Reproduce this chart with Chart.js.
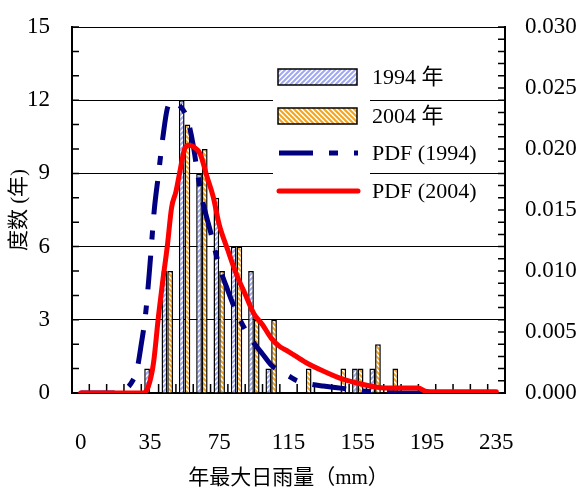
<!DOCTYPE html>
<html>
<head>
<meta charset="utf-8">
<script src="https://cdn.jsdelivr.net/npm/chart.js@4.4.0/dist/chart.umd.min.js"></script>
<style>
  html, body { margin: 0; padding: 0; background: #fff; }
  canvas { display: block; }
</style>
</head>
<body>
<canvas id="rainChart" width="583" height="498"></canvas>
<script>
// 区间标签 (mm) 以及在横轴上的位置 (第一个区间 "0" 放在 5 之前一格)
const binLabels = ['0','5','15','25','35','45','55','65','75','85','95','105','115','125','135','145','155','165','175','185','195','205','215','225','235'];
const binMid = [-5, 5, 15, 25, 35, 45, 55, 65, 75, 85, 95, 105, 115, 125, 135, 145, 155, 165, 175, 185, 195, 205, 215, 225, 235];
// 频数 (年)
const count1994 = [0,0,0,0,1,5,12,9,8,6,5,1,0,0,0,0,1,1,0,0,0,0,0,0,0];
const count2004 = [0,0,0,0,0,5,11,10,5,6,3,3,0,1,0,1,1,2,1,0,0,0,0,0,0];

// 概率密度 (mm, 密度)
const pdf1994X = [-5, 5, 15, 20, 25, 27.5, 30, 32.5, 35, 37.5, 40, 42.5, 45, 47.5, 50, 52.5, 55, 57.5, 60, 62.5, 65, 70, 75, 80, 85, 90, 95, 100, 105, 110, 115, 120, 125, 135, 145, 155, 165, 175, 185, 235];
const pdf1994Y = [0, 0, 0, 0.0002, 0.001, 0.0019, 0.004, 0.0065, 0.0105, 0.015, 0.018, 0.021, 0.0233, 0.0239, 0.0238, 0.0235, 0.023, 0.022, 0.0203, 0.018, 0.016, 0.0132, 0.0104, 0.0084, 0.0066, 0.0052, 0.0041, 0.0032, 0.0023, 0.0018, 0.0014, 0.001, 0.0008, 0.00057, 0.0004, 0.0002, 0.0001, 0.00003, 0, 0];
const pdf2004X = [-5, 25, 31, 34, 37, 40, 42.5, 45, 47.5, 50, 52.5, 55, 57.5, 60, 64, 68, 71.5, 75, 80, 85, 90, 95, 100, 105, 110, 115, 125, 135, 145, 155, 165, 175, 190, 194, 200, 235];
const pdf2004Y = [0, 0, 0, 0.0005, 0.0024, 0.0064, 0.0093, 0.012, 0.0152, 0.0165, 0.0183, 0.02, 0.0203, 0.0202, 0.0196, 0.0177, 0.0161, 0.0138, 0.0117, 0.0097, 0.0081, 0.0065, 0.0056, 0.0045, 0.0038, 0.0034, 0.0025, 0.0018, 0.0012, 0.0008, 0.0005, 0.0004, 0.0004, 0.00015, 0.0001, 0.0001];

const fontFamily = '"Liberation Serif", "Noto Sans CJK SC", serif';

function hatch(ctx, color, rising) {
    const s = 5;
    const c = document.createElement('canvas');
    c.width = s; c.height = s;
    const g = c.getContext('2d');
    g.fillStyle = '#fff';
    g.fillRect(0, 0, s, s);
    g.strokeStyle = color;
    g.lineWidth = 2;
    g.beginPath();
    for (let k = -1; k <= 1; k++) {
        if (rising) { g.moveTo(k*s - 1, s + 1); g.lineTo(k*s + s + 1, -1); }
        else { g.moveTo(k*s - 1, -1); g.lineTo(k*s + s + 1, s + 1); }
    }
    g.stroke();
    return ctx.createPattern(c, 'repeat');
}

// 内侧刻度
const innerTicks = {
    id: 'innerTicks',
    beforeDatasetsDraw(chart) {
        const {ctx, chartArea: a, scales} = chart;
        ctx.save();
        ctx.strokeStyle = '#000';
        ctx.lineWidth = 1.5;
        ctx.beginPath();
        for (let v = 0; v <= 15; v++) {
            const y = scales.y.getPixelForValue(v);
            ctx.moveTo(a.left, y); ctx.lineTo(a.left + 7, y);
        }
        for (let k = 0; k <= 30; k++) {
            const y = scales.y2.getPixelForValue(k / 1000);
            ctx.moveTo(a.right - 7, y); ctx.lineTo(a.right, y);
        }
        for (let i = 1; i < binMid.length; i++) {
            const x = scales.x.getPixelForValue(binMid[i] - 5);
            ctx.moveTo(x, a.bottom); ctx.lineTo(x, a.bottom - 9);
        }
        ctx.stroke();
        ctx.restore();
    }
};

// 图例
const boxLegend = {
    id: 'boxLegend',
    afterDatasetsDraw(chart) {
        const ctx = chart.ctx;
        const rows = [77, 116, 153, 191];
        ctx.save();
        ctx.fillStyle = '#fff';
        ctx.fillRect(273, 60, 97, 145);
        chart.data.datasets.forEach((d, i) => {
            const y = rows[i];
            if (d.type === 'line') {
                ctx.strokeStyle = d.borderColor;
                ctx.lineWidth = d.borderWidth;
                ctx.lineCap = d.borderCapStyle || 'butt';
                ctx.setLineDash(d.borderDash || []);
                ctx.beginPath();
                ctx.moveTo(279, y); ctx.lineTo(358, y);
                ctx.stroke();
                ctx.setLineDash([]);
            } else {
                ctx.fillStyle = d.backgroundColor;
                ctx.fillRect(278, y - 8, 79, 16);
                ctx.strokeStyle = '#000';
                ctx.lineWidth = 1.5;
                ctx.strokeRect(278, y - 8, 79, 16);
            }
            ctx.fillStyle = '#000';
            ctx.font = '22px ' + fontFamily;
            ctx.textBaseline = 'middle';
            ctx.fillText(d.label, 372, y + 1);
        });
        ctx.restore();
    }
};

const canvas = document.getElementById('rainChart');
const ctx = canvas.getContext('2d');

const barPoints = counts => binMid.map((x, i) => ({x: x, y: counts[i] || null}));

// 固定各轴尺寸, 不让刻度文字再撑开绘图区
const fixSize = (w, h) => s => {
    if (w !== null) s.width = w;
    if (h !== null) s.height = h;
    s.paddingTop = 0; s.paddingBottom = 0; s.paddingLeft = 0; s.paddingRight = 0;
};

new Chart(ctx, {
    type: 'bar',
    data: {
        datasets: [
            {
                type: 'bar',
                label: '1994 年',
                data: barPoints(count1994),
                backgroundColor: hatch(ctx, '#9fa8f2', true),
                borderColor: '#000',
                borderWidth: 1.5,
                categoryPercentage: 0.66,
                barPercentage: 1.0,
                yAxisID: 'y',
                order: 2
            },
            {
                type: 'bar',
                label: '2004 年',
                data: barPoints(count2004),
                backgroundColor: hatch(ctx, '#f5a31a', false),
                borderColor: '#000',
                borderWidth: 1.5,
                categoryPercentage: 0.66,
                barPercentage: 1.0,
                yAxisID: 'y',
                order: 2
            },
            {
                type: 'line',
                label: 'PDF (1994)',
                data: pdf1994X.map((x, i) => ({x: x, y: pdf1994Y[i]})),
                borderColor: '#000080',
                borderWidth: 5,
                borderDash: [34, 16, 9, 16],
                borderCapStyle: 'butt',
                pointRadius: 0,
                cubicInterpolationMode: 'monotone',
                yAxisID: 'y2',
                order: 1
            },
            {
                type: 'line',
                label: 'PDF (2004)',
                data: pdf2004X.map((x, i) => ({x: x, y: pdf2004Y[i]})),
                borderColor: '#ff0000',
                borderWidth: 5,
                borderCapStyle: 'round',
                pointRadius: 0,
                cubicInterpolationMode: 'monotone',
                yAxisID: 'y2',
                order: 0
            }
        ]
    },
    options: {
        responsive: false,
        animation: false,
        devicePixelRatio: 1,
        events: [],
        layout: { padding: { top: 27, left: 0, right: 0, bottom: 0 } },
        plugins: { legend: { display: false }, tooltip: { enabled: false } },
        scales: {
            x: {
                type: 'linear',
                min: -10,
                max: 240,
                offset: false,
                grid: { display: false, drawTicks: false, offset: false },
                border: { display: true, color: '#000', width: 2 },
                afterBuildTicks: s => {
                    s.ticks = binMid.filter((v, i) => i % 4 === 0).map(v => ({value: v}));
                },
                ticks: {
                    autoSkip: false,
                    maxRotation: 0,
                    color: '#000',
                    padding: 36,
                    font: { family: fontFamily, size: 23 },
                    callback: v => binLabels[binMid.indexOf(v)]
                },
                title: {
                    display: true,
                    text: '年最大日雨量（mm）',
                    color: '#000',
                    font: { family: fontFamily, size: 21 },
                    padding: { top: 0, bottom: 7 }
                },
                afterFit: fixSize(null, 105)
            },
            y: {
                position: 'left',
                min: 0,
                max: 15,
                ticks: { stepSize: 3, color: '#000', padding: 22, font: { family: fontFamily, size: 23 } },
                grid: { color: '#000', lineWidth: 1, drawTicks: false },
                border: { display: true, color: '#000', width: 2 },
                title: {
                    display: true,
                    text: '度数 (年)',
                    color: '#000',
                    font: { family: fontFamily, size: 21 },
                    padding: { top: 7, bottom: 0 }
                },
                afterFit: fixSize(72, null)
            },
            y2: {
                position: 'right',
                min: 0,
                max: 0.03,
                ticks: {
                    stepSize: 0.005,
                    color: '#000',
                    padding: 20,
                    font: { family: fontFamily, size: 23 },
                    callback: v => Number(v).toFixed(3)
                },
                grid: { display: false, drawTicks: false },
                border: { display: true, color: '#000', width: 2 },
                afterFit: fixSize(78, null)
            }
        }
    },
    plugins: [innerTicks, boxLegend]
});
</script>
</body>
</html>
